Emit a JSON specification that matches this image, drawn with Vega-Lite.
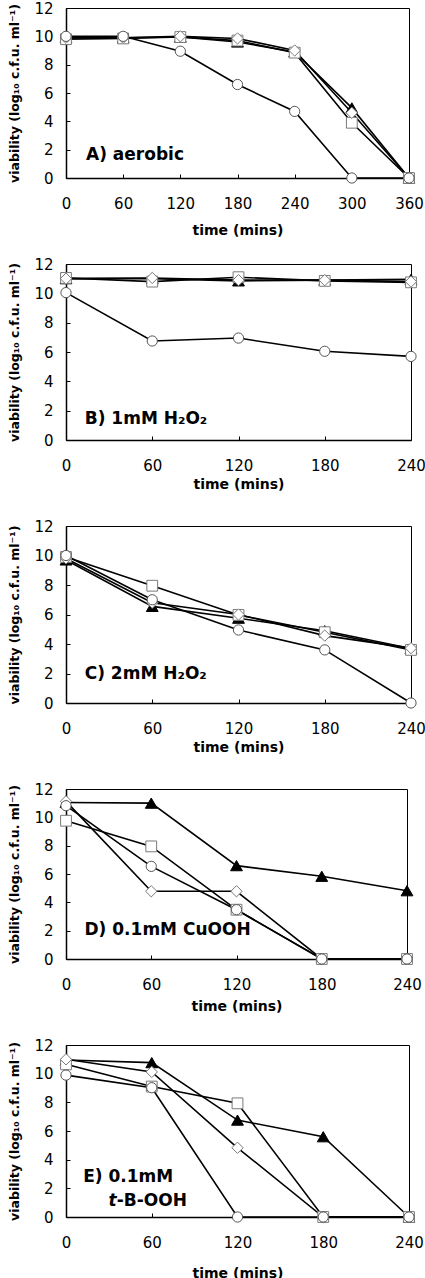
{
  "$schema": "https://vega.github.io/schema/vega-lite/v6.json",
  "background": "white",
  "padding": {"left": 8, "top": 0, "right": 0, "bottom": 0},
  "bounds": "flush",
  "spacing": 86,
  "datasets": {
    "A": [
      {"series": "triangle", "time": 0, "v": 9.9}, {"series": "triangle", "time": 60, "v": 9.9}, {"series": "triangle", "time": 120, "v": 9.95}, {"series": "triangle", "time": 180, "v": 9.6}, {"series": "triangle", "time": 240, "v": 8.9}, {"series": "triangle", "time": 300, "v": 4.95}, {"series": "triangle", "time": 360, "v": 0},
      {"series": "square", "time": 0, "v": 9.8}, {"series": "square", "time": 60, "v": 9.85}, {"series": "square", "time": 120, "v": 9.95}, {"series": "square", "time": 180, "v": 9.7}, {"series": "square", "time": 240, "v": 8.85}, {"series": "square", "time": 300, "v": 3.9}, {"series": "square", "time": 360, "v": 0},
      {"series": "diamond", "time": 0, "v": 9.9}, {"series": "diamond", "time": 60, "v": 9.9}, {"series": "diamond", "time": 120, "v": 10.0}, {"series": "diamond", "time": 180, "v": 9.85}, {"series": "diamond", "time": 240, "v": 9.0}, {"series": "diamond", "time": 300, "v": 4.6}, {"series": "diamond", "time": 360, "v": 0},
      {"series": "circle", "time": 0, "v": 10.0}, {"series": "circle", "time": 60, "v": 10.0}, {"series": "circle", "time": 120, "v": 8.95}, {"series": "circle", "time": 180, "v": 6.6}, {"series": "circle", "time": 240, "v": 4.7}, {"series": "circle", "time": 300, "v": 0}, {"series": "circle", "time": 360, "v": 0}
    ],
    "B": [
      {"series": "triangle", "time": 0, "v": 11.0}, {"series": "triangle", "time": 60, "v": 11.0}, {"series": "triangle", "time": 120, "v": 10.85}, {"series": "triangle", "time": 180, "v": 10.9}, {"series": "triangle", "time": 240, "v": 10.95},
      {"series": "square", "time": 0, "v": 11.05}, {"series": "square", "time": 60, "v": 10.8}, {"series": "square", "time": 120, "v": 11.1}, {"series": "square", "time": 180, "v": 10.85}, {"series": "square", "time": 240, "v": 10.75},
      {"series": "diamond", "time": 0, "v": 11.0}, {"series": "diamond", "time": 60, "v": 11.05}, {"series": "diamond", "time": 120, "v": 10.9}, {"series": "diamond", "time": 180, "v": 10.9}, {"series": "diamond", "time": 240, "v": 10.8},
      {"series": "circle", "time": 0, "v": 10.05}, {"series": "circle", "time": 60, "v": 6.75}, {"series": "circle", "time": 120, "v": 6.95}, {"series": "circle", "time": 180, "v": 6.05}, {"series": "circle", "time": 240, "v": 5.7}
    ],
    "C": [
      {"series": "triangle", "time": 0, "v": 9.7}, {"series": "triangle", "time": 60, "v": 6.55}, {"series": "triangle", "time": 120, "v": 5.75}, {"series": "triangle", "time": 180, "v": 4.9}, {"series": "triangle", "time": 240, "v": 3.7},
      {"series": "square", "time": 0, "v": 9.9}, {"series": "square", "time": 60, "v": 7.95}, {"series": "square", "time": 120, "v": 5.97}, {"series": "square", "time": 180, "v": 4.8}, {"series": "square", "time": 240, "v": 3.6},
      {"series": "diamond", "time": 0, "v": 9.8}, {"series": "diamond", "time": 60, "v": 6.8}, {"series": "diamond", "time": 120, "v": 6.0}, {"series": "diamond", "time": 180, "v": 4.57}, {"series": "diamond", "time": 240, "v": 3.72},
      {"series": "circle", "time": 0, "v": 10.0}, {"series": "circle", "time": 60, "v": 7.0}, {"series": "circle", "time": 120, "v": 4.95}, {"series": "circle", "time": 180, "v": 3.6}, {"series": "circle", "time": 240, "v": 0}
    ],
    "D": [
      {"series": "triangle", "time": 0, "v": 11.05}, {"series": "triangle", "time": 60, "v": 11.0}, {"series": "triangle", "time": 120, "v": 6.59}, {"series": "triangle", "time": 180, "v": 5.84}, {"series": "triangle", "time": 240, "v": 4.82},
      {"series": "square", "time": 0, "v": 9.76}, {"series": "square", "time": 60, "v": 7.95}, {"series": "square", "time": 120, "v": 3.48}, {"series": "square", "time": 180, "v": 0}, {"series": "square", "time": 240, "v": 0},
      {"series": "diamond", "time": 0, "v": 11.13}, {"series": "diamond", "time": 60, "v": 4.78}, {"series": "diamond", "time": 120, "v": 4.78}, {"series": "diamond", "time": 180, "v": 0}, {"series": "diamond", "time": 240, "v": 0},
      {"series": "circle", "time": 0, "v": 10.82}, {"series": "circle", "time": 60, "v": 6.54}, {"series": "circle", "time": 120, "v": 3.48}, {"series": "circle", "time": 180, "v": 0}, {"series": "circle", "time": 240, "v": 0}
    ],
    "E": [
      {"series": "triangle", "time": 0, "v": 10.95}, {"series": "triangle", "time": 60, "v": 10.77}, {"series": "triangle", "time": 120, "v": 6.76}, {"series": "triangle", "time": 180, "v": 5.6}, {"series": "triangle", "time": 240, "v": 0},
      {"series": "square", "time": 0, "v": 10.65}, {"series": "square", "time": 60, "v": 9.1}, {"series": "square", "time": 120, "v": 7.93}, {"series": "square", "time": 180, "v": 0}, {"series": "square", "time": 240, "v": 0},
      {"series": "diamond", "time": 0, "v": 11.0}, {"series": "diamond", "time": 60, "v": 10.12}, {"series": "diamond", "time": 120, "v": 4.83}, {"series": "diamond", "time": 180, "v": 0}, {"series": "diamond", "time": 240, "v": 0},
      {"series": "circle", "time": 0, "v": 9.9}, {"series": "circle", "time": 60, "v": 9.02}, {"series": "circle", "time": 120, "v": 0}, {"series": "circle", "time": 180, "v": 0}, {"series": "circle", "time": 240, "v": 0}
    ]
  },
  "vconcat": [
    {
      "width": 343, "height": 170,
      "layer": [
        {"data": {"name": "A"}, "mark": {"type": "line", "color": "black", "strokeWidth": 1.6},
         "encoding": {
           "x": {"field": "time", "type": "quantitative", "scale": {"domain": [0, 360], "nice": false}, "axis": {"values": [0, 60, 120, 180, 240, 300, 360], "title": "time (mins)", "titlePadding": 12}},
           "y": {"field": "v", "type": "quantitative", "scale": {"domain": [0, 12], "nice": false}, "axis": {"values": [0, 2, 4, 6, 8, 10, 12], "title": "viability (log₁₀ c.f.u. ml⁻¹)"}},
           "detail": {"field": "series"}}},
        {"data": {"name": "A"}, "mark": {"type": "point", "filled": true, "opacity": 1, "strokeWidth": 1},
         "encoding": {
           "x": {"field": "time", "type": "quantitative", "scale": {"domain": [0, 360], "nice": false}, "axis": {"values": [0, 60, 120, 180, 240, 300, 360], "title": "time (mins)", "titlePadding": 12}},
           "y": {"field": "v", "type": "quantitative", "scale": {"domain": [0, 12], "nice": false}, "axis": {"values": [0, 2, 4, 6, 8, 10, 12], "title": "viability (log₁₀ c.f.u. ml⁻¹)"}},
           "shape": {"field": "series", "type": "nominal", "scale": {"domain": ["circle", "square", "diamond", "triangle"], "range": ["circle", "square", "diamond", "triangle-up"]}, "legend": null},
           "fill": {"field": "series", "type": "nominal", "scale": {"domain": ["circle", "square", "diamond", "triangle"], "range": ["white", "white", "white", "black"]}, "legend": null},
           "stroke": {"field": "series", "type": "nominal", "scale": {"domain": ["circle", "square", "diamond", "triangle"], "range": ["#555555", "#7a7a7a", "#7a7a7a", "black"]}, "legend": null},
           "size": {"field": "series", "type": "nominal", "scale": {"domain": ["circle", "square", "diamond", "triangle"], "range": [105, 140, 130, 130]}, "legend": null}
         }},
        {"data": {"values": [{"label": "A) aerobic"}]}, "mark": {"type": "text", "align": "left", "baseline": "middle", "font": "DejaVu Sans", "fontWeight": "bold", "fontSize": 17, "color": "black"},
         "encoding": {"text": {"field": "label"},
           "x": {"datum": 21, "type": "quantitative", "scale": {"domain": [0, 360], "nice": false}, "axis": {"values": [0, 60, 120, 180, 240, 300, 360], "title": "time (mins)", "titlePadding": 12}},
           "y": {"datum": 1.6, "type": "quantitative", "scale": {"domain": [0, 12], "nice": false}, "axis": {"values": [0, 2, 4, 6, 8, 10, 12], "title": "viability (log₁₀ c.f.u. ml⁻¹)"}}}}
      ]
    },
    {
      "width": 345, "height": 176,
      "layer": [
        {"data": {"name": "B"}, "mark": {"type": "line", "color": "black", "strokeWidth": 1.6},
         "encoding": {
           "x": {"field": "time", "type": "quantitative", "scale": {"domain": [0, 240], "nice": false}, "axis": {"values": [0, 60, 120, 180, 240], "title": "time (mins)", "titlePadding": 4}},
           "y": {"field": "v", "type": "quantitative", "scale": {"domain": [0, 12], "nice": false}, "axis": {"values": [0, 2, 4, 6, 8, 10, 12], "title": "viability (log₁₀ c.f.u. ml⁻¹)"}},
           "detail": {"field": "series"}}},
        {"data": {"name": "B"}, "mark": {"type": "point", "filled": true, "opacity": 1, "strokeWidth": 1},
         "encoding": {
           "x": {"field": "time", "type": "quantitative", "scale": {"domain": [0, 240], "nice": false}, "axis": {"values": [0, 60, 120, 180, 240], "title": "time (mins)", "titlePadding": 4}},
           "y": {"field": "v", "type": "quantitative", "scale": {"domain": [0, 12], "nice": false}, "axis": {"values": [0, 2, 4, 6, 8, 10, 12], "title": "viability (log₁₀ c.f.u. ml⁻¹)"}},
           "shape": {"field": "series", "type": "nominal", "scale": {"domain": ["circle", "square", "diamond", "triangle"], "range": ["circle", "square", "diamond", "triangle-up"]}, "legend": null},
           "fill": {"field": "series", "type": "nominal", "scale": {"domain": ["circle", "square", "diamond", "triangle"], "range": ["white", "white", "white", "black"]}, "legend": null},
           "stroke": {"field": "series", "type": "nominal", "scale": {"domain": ["circle", "square", "diamond", "triangle"], "range": ["#555555", "#7a7a7a", "#7a7a7a", "black"]}, "legend": null},
           "size": {"field": "series", "type": "nominal", "scale": {"domain": ["circle", "square", "diamond", "triangle"], "range": [105, 140, 130, 130]}, "legend": null}
         }},
        {"data": {"values": [{"label": "B) 1mM H₂O₂"}]}, "mark": {"type": "text", "align": "left", "baseline": "middle", "font": "DejaVu Sans", "fontWeight": "bold", "fontSize": 17, "color": "black"},
         "encoding": {"text": {"field": "label"},
           "x": {"datum": 13, "type": "quantitative", "scale": {"domain": [0, 240], "nice": false}, "axis": {"values": [0, 60, 120, 180, 240], "title": "time (mins)", "titlePadding": 4}},
           "y": {"datum": 1.4, "type": "quantitative", "scale": {"domain": [0, 12], "nice": false}, "axis": {"values": [0, 2, 4, 6, 8, 10, 12], "title": "viability (log₁₀ c.f.u. ml⁻¹)"}}}}
      ]
    },
    {
      "width": 345, "height": 177,
      "layer": [
        {"data": {"name": "C"}, "mark": {"type": "line", "color": "black", "strokeWidth": 1.6},
         "encoding": {
           "x": {"field": "time", "type": "quantitative", "scale": {"domain": [0, 240], "nice": false}, "axis": {"values": [0, 60, 120, 180, 240], "title": "time (mins)", "titlePadding": 4}},
           "y": {"field": "v", "type": "quantitative", "scale": {"domain": [0, 12], "nice": false}, "axis": {"values": [0, 2, 4, 6, 8, 10, 12], "title": "viability (log₁₀ c.f.u. ml⁻¹)"}},
           "detail": {"field": "series"}}},
        {"data": {"name": "C"}, "mark": {"type": "point", "filled": true, "opacity": 1, "strokeWidth": 1},
         "encoding": {
           "x": {"field": "time", "type": "quantitative", "scale": {"domain": [0, 240], "nice": false}, "axis": {"values": [0, 60, 120, 180, 240], "title": "time (mins)", "titlePadding": 4}},
           "y": {"field": "v", "type": "quantitative", "scale": {"domain": [0, 12], "nice": false}, "axis": {"values": [0, 2, 4, 6, 8, 10, 12], "title": "viability (log₁₀ c.f.u. ml⁻¹)"}},
           "shape": {"field": "series", "type": "nominal", "scale": {"domain": ["circle", "square", "diamond", "triangle"], "range": ["circle", "square", "diamond", "triangle-up"]}, "legend": null},
           "fill": {"field": "series", "type": "nominal", "scale": {"domain": ["circle", "square", "diamond", "triangle"], "range": ["white", "white", "white", "black"]}, "legend": null},
           "stroke": {"field": "series", "type": "nominal", "scale": {"domain": ["circle", "square", "diamond", "triangle"], "range": ["#555555", "#7a7a7a", "#7a7a7a", "black"]}, "legend": null},
           "size": {"field": "series", "type": "nominal", "scale": {"domain": ["circle", "square", "diamond", "triangle"], "range": [105, 140, 130, 130]}, "legend": null}
         }},
        {"data": {"values": [{"label": "C) 2mM H₂O₂"}]}, "mark": {"type": "text", "align": "left", "baseline": "middle", "font": "DejaVu Sans", "fontWeight": "bold", "fontSize": 17, "color": "black"},
         "encoding": {"text": {"field": "label"},
           "x": {"datum": 13, "type": "quantitative", "scale": {"domain": [0, 240], "nice": false}, "axis": {"values": [0, 60, 120, 180, 240], "title": "time (mins)", "titlePadding": 4}},
           "y": {"datum": 2.0, "type": "quantitative", "scale": {"domain": [0, 12], "nice": false}, "axis": {"values": [0, 2, 4, 6, 8, 10, 12], "title": "viability (log₁₀ c.f.u. ml⁻¹)"}}}}
      ]
    },
    {
      "width": 341, "height": 170,
      "layer": [
        {"data": {"name": "D"}, "mark": {"type": "line", "color": "black", "strokeWidth": 1.6},
         "encoding": {
           "x": {"field": "time", "type": "quantitative", "scale": {"domain": [0, 240], "nice": false}, "axis": {"values": [0, 60, 120, 180, 240], "title": "time (mins)", "titlePadding": 7}},
           "y": {"field": "v", "type": "quantitative", "scale": {"domain": [0, 12], "nice": false}, "axis": {"values": [0, 2, 4, 6, 8, 10, 12], "title": "viability (log₁₀ c.f.u. ml⁻¹)"}},
           "detail": {"field": "series"}}},
        {"data": {"name": "D"}, "mark": {"type": "point", "filled": true, "opacity": 1, "strokeWidth": 1},
         "encoding": {
           "x": {"field": "time", "type": "quantitative", "scale": {"domain": [0, 240], "nice": false}, "axis": {"values": [0, 60, 120, 180, 240], "title": "time (mins)", "titlePadding": 7}},
           "y": {"field": "v", "type": "quantitative", "scale": {"domain": [0, 12], "nice": false}, "axis": {"values": [0, 2, 4, 6, 8, 10, 12], "title": "viability (log₁₀ c.f.u. ml⁻¹)"}},
           "shape": {"field": "series", "type": "nominal", "scale": {"domain": ["circle", "square", "diamond", "triangle"], "range": ["circle", "square", "diamond", "triangle-up"]}, "legend": null},
           "fill": {"field": "series", "type": "nominal", "scale": {"domain": ["circle", "square", "diamond", "triangle"], "range": ["white", "white", "white", "black"]}, "legend": null},
           "stroke": {"field": "series", "type": "nominal", "scale": {"domain": ["circle", "square", "diamond", "triangle"], "range": ["#555555", "#7a7a7a", "#7a7a7a", "black"]}, "legend": null},
           "size": {"field": "series", "type": "nominal", "scale": {"domain": ["circle", "square", "diamond", "triangle"], "range": [105, 140, 130, 130]}, "legend": null}
         }},
        {"data": {"values": [{"label": "D) 0.1mM CuOOH"}]}, "mark": {"type": "text", "align": "left", "baseline": "middle", "font": "DejaVu Sans", "fontWeight": "bold", "fontSize": 17, "color": "black"},
         "encoding": {"text": {"field": "label"},
           "x": {"datum": 13, "type": "quantitative", "scale": {"domain": [0, 240], "nice": false}, "axis": {"values": [0, 60, 120, 180, 240], "title": "time (mins)", "titlePadding": 7}},
           "y": {"datum": 2.07, "type": "quantitative", "scale": {"domain": [0, 12], "nice": false}, "axis": {"values": [0, 2, 4, 6, 8, 10, 12], "title": "viability (log₁₀ c.f.u. ml⁻¹)"}}}}
      ]
    },
    {
      "width": 343, "height": 172,
      "layer": [
        {"data": {"name": "E"}, "mark": {"type": "line", "color": "black", "strokeWidth": 1.6},
         "encoding": {
           "x": {"field": "time", "type": "quantitative", "scale": {"domain": [0, 240], "nice": false}, "axis": {"values": [0, 60, 120, 180, 240], "title": "time (mins)", "titlePadding": 16}},
           "y": {"field": "v", "type": "quantitative", "scale": {"domain": [0, 12], "nice": false}, "axis": {"values": [0, 2, 4, 6, 8, 10, 12], "title": "viability (log₁₀ c.f.u. ml⁻¹)"}},
           "detail": {"field": "series"}}},
        {"data": {"name": "E"}, "mark": {"type": "point", "filled": true, "opacity": 1, "strokeWidth": 1},
         "encoding": {
           "x": {"field": "time", "type": "quantitative", "scale": {"domain": [0, 240], "nice": false}, "axis": {"values": [0, 60, 120, 180, 240], "title": "time (mins)", "titlePadding": 16}},
           "y": {"field": "v", "type": "quantitative", "scale": {"domain": [0, 12], "nice": false}, "axis": {"values": [0, 2, 4, 6, 8, 10, 12], "title": "viability (log₁₀ c.f.u. ml⁻¹)"}},
           "shape": {"field": "series", "type": "nominal", "scale": {"domain": ["circle", "square", "diamond", "triangle"], "range": ["circle", "square", "diamond", "triangle-up"]}, "legend": null},
           "fill": {"field": "series", "type": "nominal", "scale": {"domain": ["circle", "square", "diamond", "triangle"], "range": ["white", "white", "white", "black"]}, "legend": null},
           "stroke": {"field": "series", "type": "nominal", "scale": {"domain": ["circle", "square", "diamond", "triangle"], "range": ["#555555", "#7a7a7a", "#7a7a7a", "black"]}, "legend": null},
           "size": {"field": "series", "type": "nominal", "scale": {"domain": ["circle", "square", "diamond", "triangle"], "range": [105, 140, 130, 130]}, "legend": null}
         }},
        {"data": {"values": [{"label": "E) 0.1mM"}]}, "mark": {"type": "text", "align": "left", "baseline": "middle", "font": "DejaVu Sans", "fontWeight": "bold", "fontSize": 17, "color": "black"},
         "encoding": {"text": {"field": "label"},
           "x": {"datum": 12, "type": "quantitative", "scale": {"domain": [0, 240], "nice": false}, "axis": {"values": [0, 60, 120, 180, 240], "title": "time (mins)", "titlePadding": 16}},
           "y": {"datum": 2.77, "type": "quantitative", "scale": {"domain": [0, 12], "nice": false}, "axis": {"values": [0, 2, 4, 6, 8, 10, 12], "title": "viability (log₁₀ c.f.u. ml⁻¹)"}}}},
        {"data": {"values": [{"label": "t"}]}, "mark": {"type": "text", "align": "right", "baseline": "middle", "font": "DejaVu Sans", "fontWeight": "bold", "fontStyle": "italic", "fontSize": 17, "color": "black"},
         "encoding": {"text": {"field": "label"},
           "x": {"datum": 35.5, "type": "quantitative", "scale": {"domain": [0, 240], "nice": false}, "axis": {"values": [0, 60, 120, 180, 240], "title": "time (mins)", "titlePadding": 16}},
           "y": {"datum": 1.14, "type": "quantitative", "scale": {"domain": [0, 12], "nice": false}, "axis": {"values": [0, 2, 4, 6, 8, 10, 12], "title": "viability (log₁₀ c.f.u. ml⁻¹)"}}}},
        {"data": {"values": [{"label": "-B-OOH"}]}, "mark": {"type": "text", "align": "left", "baseline": "middle", "font": "DejaVu Sans", "fontWeight": "bold", "fontSize": 17, "color": "black"},
         "encoding": {"text": {"field": "label"},
           "x": {"datum": 35.5, "type": "quantitative", "scale": {"domain": [0, 240], "nice": false}, "axis": {"values": [0, 60, 120, 180, 240], "title": "time (mins)", "titlePadding": 16}},
           "y": {"datum": 1.14, "type": "quantitative", "scale": {"domain": [0, 12], "nice": false}, "axis": {"values": [0, 2, 4, 6, 8, 10, 12], "title": "viability (log₁₀ c.f.u. ml⁻¹)"}}}}
      ]
    }
  ],
  "config": {
    "view": {"stroke": "black", "strokeWidth": 1},
    "axis": {"grid": false, "domainColor": "black", "domainWidth": 1.5, "tickColor": "black", "tickSize": -4, "tickWidth": 1, "labelFont": "DejaVu Sans", "labelFontSize": 15, "labelColor": "black", "titleFont": "DejaVu Sans", "titleFontWeight": "bold", "titleColor": "black"},
    "axisX": {"labelPadding": 22, "titleFontSize": 14, "labelFlush": false},
    "axisY": {"labelPadding": 17, "titleFontSize": 12.5, "titlePadding": 12}
  }
}
